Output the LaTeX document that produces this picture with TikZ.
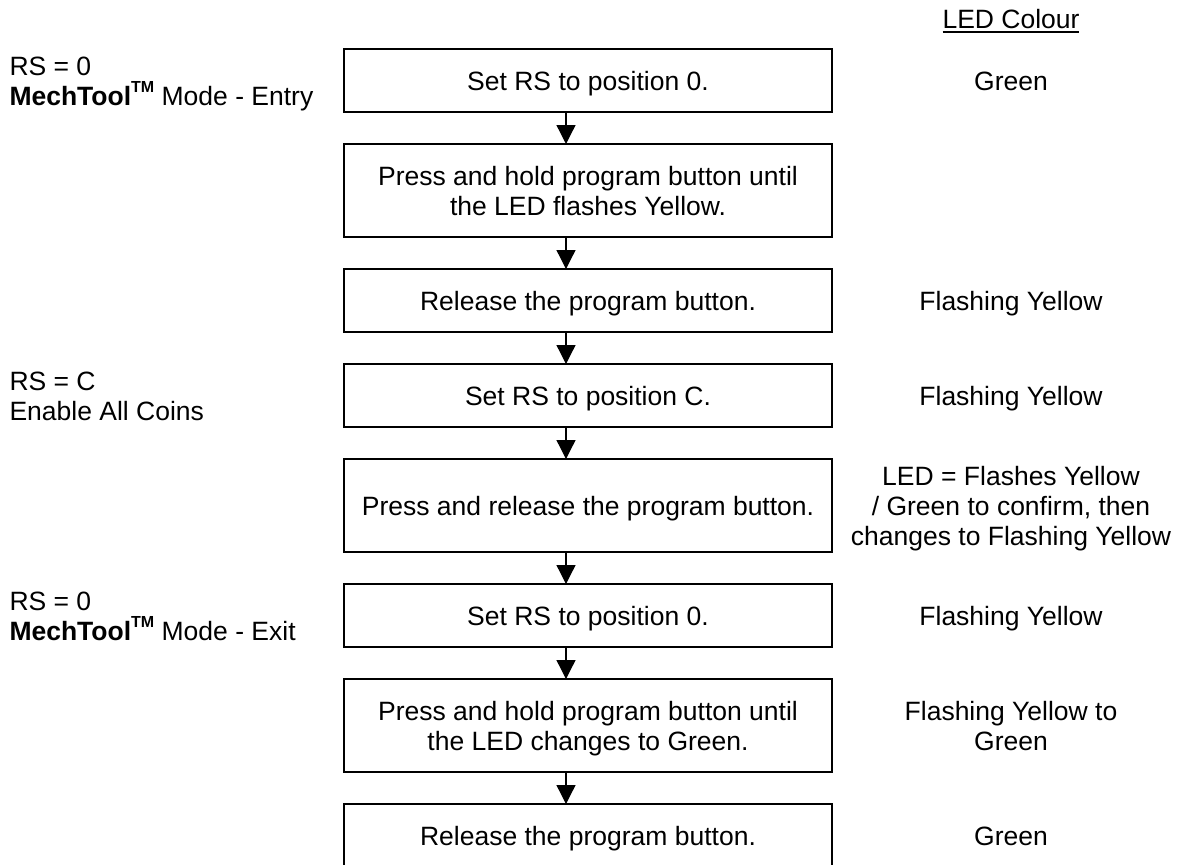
\documentclass[tikz,border=0pt]{standalone}
\usepackage{fontspec}
\setmainfont{Liberation Sans}
\usetikzlibrary{arrows.meta}
\newcommand\cstack[1]{\vbox{\halign{\hfil##\hfil\cr#1\crcr}}}
\newcommand\lstack[1]{\vbox{\halign{##\hfil\cr#1\crcr}}}
\newcommand\mtool{\textbf{MechTool\raisebox{13pt}{\fontsize{16}{16}\selectfont\bfseries TM}}}
\begin{document}
\begin{tikzpicture}[x=1pt,y=-1pt,
  every node/.style={inner sep=0pt, outer sep=0pt, font=\fontsize{26.5}{30}\selectfont},
  stepbox/.style={draw, line width=2.3pt, minimum width=488pt, minimum height=63pt, text height=19pt, text depth=0pt},
  tallbox/.style={stepbox, minimum height=93pt, text height=49pt},
  one/.style={text height=19pt, text depth=0pt},
  two/.style={text height=49pt, text depth=0pt},
  three/.style={text height=79pt, text depth=0pt},
  leftlbl/.style={two, anchor=west},
  flow/.style={line width=1.3pt, -{Triangle[length=19pt,width=19pt]}}
]
\useasboundingbox (0,0) rectangle (1187,865);
\clip (0,0) rectangle (1187,865);

\coordinate (colx) at (1011,0);
\coordinate (lx) at (9.5,0);

% step boxes
\node[stepbox] (b1) at (588,80.5) {Set RS to position 0.};
\node[tallbox] (b2) at (588,190.5) {\cstack{Press and hold program button until\cr the LED flashes Yellow.}};
\node[stepbox] (b3) at (588,300.5) {Release the program button.};
\node[stepbox] (b4) at (588,395.5) {Set RS to position C.};
\node[tallbox, text height=19pt] (b5) at (588,505.5) {Press and release the program button.};
\node[stepbox] (b6) at (588,615.5) {Set RS to position 0.};
\node[tallbox] (b7) at (588,725.5) {\cstack{Press and hold program button until\cr the LED changes to Green.}};
\node[stepbox] (b8) at (588,835.5) {Release the program button.};

% arrows
\foreach \a/\b in {b1/b2,b2/b3,b3/b4,b4/b5,b5/b6,b6/b7,b7/b8}
  \draw[flow] ([xshift=-22pt]\a.south) -- ([xshift=-22pt]\b.north);

% header
\node[anchor=base] (hdr) at (1011,28) {LED Colour};
\draw[line width=1.6pt] ([yshift=-4pt]hdr.base west) -- ([yshift=-4pt]hdr.base east);

% LED column
\node[one] (r1) at (b1 -| colx) {Green};
\node[one] (r3) at (b3 -| colx) {Flashing Yellow};
\node[one] (r4) at (b4 -| colx) {Flashing Yellow};
\node[three] (r5) at (b5 -| colx) {\cstack{LED = Flashes Yellow\cr / Green to confirm, then\cr changes to Flashing Yellow}};
\node[one] (r6) at (b6 -| colx) {Flashing Yellow};
\node[two] (r7) at (b7 -| colx) {\cstack{Flashing Yellow to\cr Green}};
\node[one] (r8) at (b8 -| colx) {Green};

% left labels
\node[leftlbl] (l1) at (b1 -| lx) {\lstack{RS = 0\cr \mtool{} Mode - Entry}};
\node[leftlbl] (l4) at (b4 -| lx) {\lstack{RS = C\cr Enable All Coins}};
\node[leftlbl] (l6) at (b6 -| lx) {\lstack{RS = 0\cr \mtool{} Mode - Exit}};
\end{tikzpicture}
\end{document}
